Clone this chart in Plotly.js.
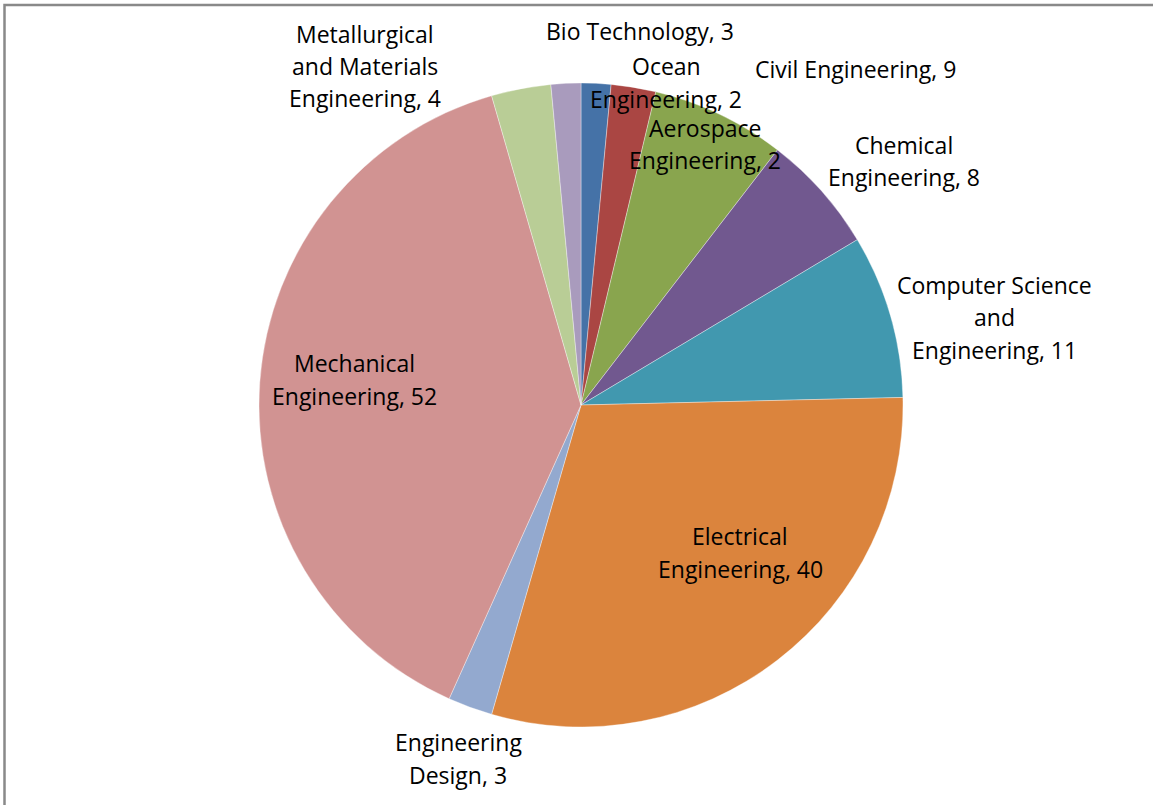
<!DOCTYPE html>
<html>
<head>
<meta charset="utf-8">
<script src="https://cdn.plot.ly/plotly-3.0.1.min.js"></script>
<style>
  html, body { margin: 0; padding: 0; background: #ffffff; }
  #chart { width: 1153px; height: 805px; }
</style>
</head>
<body>
<div id="chart"></div>
<script>
// ---- Data ----
const categories = [
  "Aerospace Engineering",
  "Bio Technology",
  "Civil Engineering",
  "Chemical Engineering",
  "Computer Science and Engineering",
  "Electrical Engineering",
  "Engineering Design",
  "Mechanical Engineering",
  "Metallurgical and Materials Engineering",
  "Ocean Engineering"
];
const counts = [2, 3, 9, 8, 11, 40, 3, 52, 4, 2];

// ---- Styles / layout (not data) ----
const sliceColors = ["#4572A7", "#AA4643", "#89A54E", "#71588F", "#4198AF",
                     "#DB843D", "#93A9CF", "#D19392", "#B9CD96", "#A99BBD"];
// Label placement (pixel centres as laid out in the reference) and wrap widths
const labelCenterX = [705, 640, 855, 904, 994, 740, 458, 354, 365, 666];
const labelCenterY = [144, 31, 68.5, 161, 317, 552.5, 758.5, 379.5, 66, 82.5];
const labelWrap    = [16, 20, 22, 16, 16, 16, 16, 16, 16, 16];
const LINE_GAP = 32.5;
const FONT_SIZE = 23;
const FONT_FAMILY = "'Open Sans', Lato, sans-serif";
const W = 1153, H = 805;

function wrapLabel(cat, val, width) {
  const words = cat.split(" ");
  const tokens = words.slice(0, -1).concat([words[words.length - 1] + ", " + val]);
  const lines = [];
  let cur = "";
  tokens.forEach(t => {
    if (cur === "") cur = t;
    else if ((cur + " " + t).length <= width) cur = cur + " " + t;
    else { lines.push(cur); cur = t; }
  });
  if (cur) lines.push(cur);
  return lines;
}

const annotations = [];
categories.forEach((cat, i) => {
  const lines = wrapLabel(cat, counts[i], labelWrap[i]);
  const n = lines.length;
  lines.forEach((ln, k) => {
    const py = labelCenterY[i] + (k - (n - 1) / 2) * LINE_GAP;
    annotations.push({
      text: ln,
      x: labelCenterX[i] / W,
      y: 1 - py / H,
      xref: "paper", yref: "paper",
      xanchor: "center", yanchor: "middle",
      showarrow: false,
      font: { family: FONT_FAMILY, size: FONT_SIZE, color: "#000000" }
    });
  });
});

// Pie geometry: centre (581, 405) px, radius 322 px
const cx = 581, cy = 405, R = 322;

const trace = {
  type: "pie",
  labels: categories,
  values: counts,
  sort: false,
  direction: "clockwise",
  rotation: 0,
  textinfo: "none",
  hoverinfo: "skip",
  marker: { colors: sliceColors, line: { color: "rgba(255,255,255,0.6)", width: 0.6 } },
  domain: { x: [(cx - R) / W, (cx + R) / W], y: [1 - (cy + R) / H, 1 - (cy - R) / H] },
  showlegend: false
};

const layout = {
  width: W, height: H,
  margin: { l: 0, r: 0, t: 0, b: 0 },
  paper_bgcolor: "#ffffff",
  plot_bgcolor: "#ffffff",
  showlegend: false,
  font: { family: FONT_FAMILY, size: FONT_SIZE, color: "#000000" },
  annotations: annotations,
  shapes: [{
    type: "rect", xref: "paper", yref: "paper",
    x0: 4.5 / W, x1: 1.02, y0: -0.02, y1: 1 - 5 / H,
    line: { color: "#898989", width: 2.5 },
    fillcolor: "rgba(0,0,0,0)",
    layer: "above"
  }]
};

Plotly.newPlot("chart", [trace], layout, { displayModeBar: false, staticPlot: true });
</script>
</body>
</html>
